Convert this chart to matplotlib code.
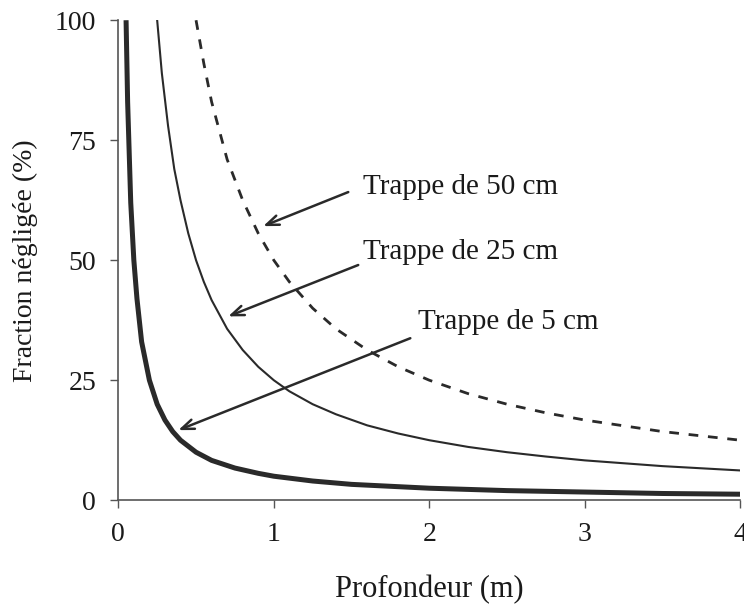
import matplotlib
matplotlib.use("Agg")
import matplotlib.pyplot as plt

# Depth (m) and neglected fraction (%)
x5 = [0.05, 0.06, 0.08, 0.1, 0.12, 0.15, 0.2, 0.25, 0.3, 0.35, 0.4, 0.5, 0.6,
      0.75, 0.9, 1.0, 1.25, 1.5, 2.0, 2.5, 3.0, 3.5, 4.0]
y5 = [100, 83, 62, 50, 42, 33, 25, 20, 16.7, 14.3, 12.5, 10, 8.3,
      6.7, 5.6, 5, 4, 3.3, 2.5, 2.0, 1.7, 1.4, 1.25]

x25 = [0.25, 0.28, 0.32, 0.36, 0.4, 0.45, 0.5, 0.55, 0.6, 0.7, 0.8, 0.9, 1.0,
       1.1, 1.25, 1.4, 1.6, 1.8, 2.0, 2.25, 2.5, 2.75, 3.0, 3.5, 4.0]
y25 = [100, 89, 78, 69, 62.5, 55.6, 50, 45.5, 41.7, 35.7, 31.3, 27.8, 25,
       22.7, 20, 17.9, 15.6, 13.9, 12.5, 11.1, 10, 9.1, 8.3, 7.1, 6.2]

x50 = [0.5, 0.55, 0.6, 0.7, 0.8, 0.9, 1.0, 1.1, 1.25, 1.4, 1.6, 1.8, 2.0,
       2.25, 2.5, 2.75, 3.0, 3.5, 4.0]
y50 = [100, 91, 83, 71, 62.5, 55.6, 50, 45.5, 40, 35.7, 31.3, 27.8, 25,
       22.2, 20, 18.2, 16.7, 14.3, 12.5]

xticks = [0, 1, 2, 3, 4]
yticks = [0, 25, 50, 75, 100]

labels = ["Trappe de 50 cm", "Trappe de 25 cm", "Trappe de 5 cm"]

plt.rcParams['font.family'] = ['Liberation Serif', 'DejaVu Serif']

fig = plt.figure(figsize=(7.44, 6.13), dpi=100)
ax = fig.add_axes([0.159, 0.184, 0.836, 0.783])

c = "#2a2a2a"
ax.plot(x5, y5, color=c, lw=3.6, solid_capstyle='butt')
ax.plot(x25, y25, color=c, lw=1.5)
ax.plot(x50, y50, color=c, lw=2.0, dashes=(3.5, 3.5))

ax.set_xlim(0, 4)
ax.set_ylim(0, 100)
ax.set_xticks(xticks)
ax.set_yticks(yticks)
for s in ["top", "right"]:
    ax.spines[s].set_visible(False)
for s in ["left", "bottom"]:
    ax.spines[s].set_color("#555555")
    ax.spines[s].set_linewidth(1.2)
ax.tick_params(direction='out', length=6, width=1, color="#555555",
               labelsize=20, pad=10, labelcolor="#1a1a1a")

ax.set_xlabel("Profondeur (m)", fontsize=22, color="#1a1a1a", labelpad=20)
ax.set_ylabel("Fraction négligée (%)", fontsize=20, color="#1a1a1a", labelpad=12)

ann = [
    (labels[0], (0.932, 57.1), (1.479, 64.2), (1.576, 65.2)),
    (labels[1], (0.707, 38.3), (1.543, 49.0), (1.576, 51.7)),
    (labels[2], (0.386, 14.6), (1.878, 33.75), (1.929, 37.1)),
]
for lab, tip, start, tpos in ann:
    ax.annotate("", xy=tip, xytext=start,
                arrowprops=dict(arrowstyle="->,head_length=0.9,head_width=0.35",
                                color=c, lw=1.8, shrinkA=0, shrinkB=0))
    ax.text(tpos[0], tpos[1], lab, fontsize=21, color="#1a1a1a",
            va='center', ha='left')

fig.savefig("out.png", dpi=100)
